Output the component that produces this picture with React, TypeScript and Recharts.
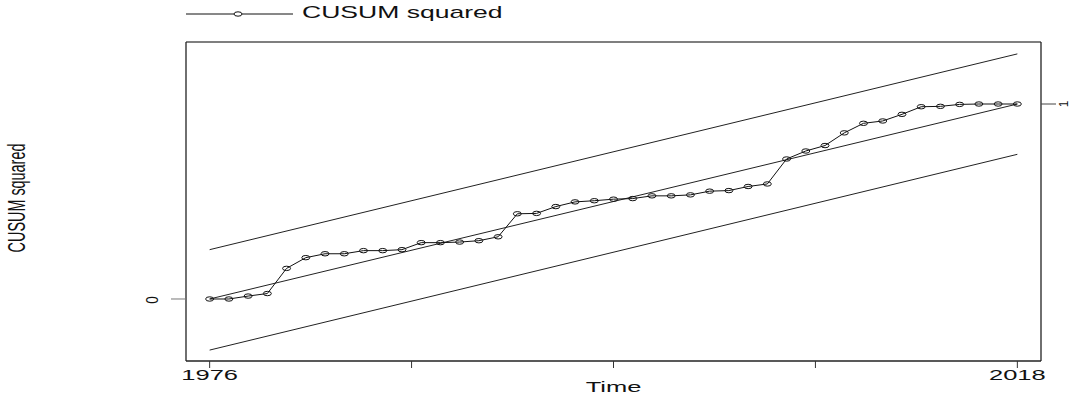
import React from 'react'
import { ComposedChart, Line, XAxis, YAxis } from 'recharts'

// years of the recursive-residual sample
const years = [
  1976, 1977, 1978, 1979, 1980, 1981, 1982, 1983, 1984, 1985, 1986,
  1987, 1988, 1989, 1990, 1991, 1992, 1993, 1994, 1995, 1996, 1997,
  1998, 1999, 2000, 2001, 2002, 2003, 2004, 2005, 2006, 2007, 2008,
  2009, 2010, 2011, 2012, 2013, 2014, 2015, 2016, 2017, 2018,
]

// CUSUM of squares
const cusumSq = [
  0, 0, 0.015, 0.028, 0.157, 0.212, 0.232, 0.232, 0.248, 0.248, 0.253,
  0.289, 0.289, 0.292, 0.299, 0.319, 0.437, 0.439, 0.474, 0.498, 0.504, 0.512,
  0.515, 0.529, 0.529, 0.534, 0.553, 0.556, 0.577, 0.59, 0.718, 0.759, 0.787,
  0.852, 0.901, 0.913, 0.947, 0.986, 0.988, 0.998, 1, 1, 1,
]

// end points of the expected line and the 5% bands
const bandYears = [1976, 2018]
const upperBand = [0.253, 1.257]
const centerLine = [0, 1]
const lowerBand = [-0.262, 0.742]

const xTicks = [1976, 1986.5, 1997, 2007.5, 2018]
const xTickLabels = ['1976', '', '', '', '2018']
const leftTicks = [0]
const rightTicks = [1]

const seriesData = years.map((year, i) => ({ year, cusum: cusumSq[i] }))
const bandData = bandYears.map((year, i) => ({
  year,
  upper: upperBand[i],
  center: centerLine[i],
  lower: lowerBand[i],
}))

const FONT = '"Liberation Sans", Arial, sans-serif'
const INK = '#111'

const BottomTick = (props: any) => {
  const { x, y, payload } = props
  const idx = xTicks.indexOf(payload.value)
  const text = idx >= 0 ? xTickLabels[idx] : ''
  if (!text) return <g />
  return (
    <g transform={`translate(${x},${y + 12})`}>
      <text transform="scale(1.7,1)" textAnchor="middle" fontSize={15} fontFamily={FONT} fill={INK}>
        {text}
      </text>
    </g>
  )
}

const LeftTick = (props: any) => {
  const { x, y, payload } = props
  return (
    <g transform={`translate(${x - 13},${y + 1})`}>
      <text transform="rotate(-90) scale(0.9,1.15)" textAnchor="middle" fontSize={15} fontFamily={FONT} fill={INK}>
        {payload.value}
      </text>
    </g>
  )
}

const RightTick = (props: any) => {
  const { x, y, payload } = props
  return (
    <g transform={`translate(${x + 12},${y})`}>
      <text transform="rotate(-90) scale(0.9,1.0)" textAnchor="middle" fontSize={13} fontFamily={FONT} fill={INK}>
        {payload.value}
      </text>
    </g>
  )
}

const Marker = (props: any) => {
  const { cx, cy, index } = props
  if (cx == null || cy == null) return <g key={index} />
  return <ellipse key={index} cx={cx} cy={cy} rx={4} ry={2.2} fill="none" stroke={INK} strokeWidth={1} />
}

const TimeLabel = (props: any) => {
  const vb = props.viewBox || {}
  const cx = vb.x + vb.width / 2
  return (
    <g transform={`translate(${cx},${vb.y + 31})`}>
      <text transform="scale(1.7,1)" textAnchor="middle" fontSize={15} fontFamily={FONT} fill={INK}>
        Time
      </text>
    </g>
  )
}

const YTitle = () => (
  <g transform="translate(25,198)">
    <text transform="rotate(-90) scale(0.9,1.55)" textAnchor="middle" fontSize={16} fontFamily={FONT} fill={INK}>
      CUSUM squared
    </text>
  </g>
)

export default function App() {
  return (
    <div style={{ position: 'absolute', left: 0, top: 0, width: 1073, height: 396, background: '#fff' }}>
      <svg width={520} height={30} style={{ position: 'absolute', left: 0, top: 0 }}>
        <line x1={186} y1={14} x2={293} y2={14} stroke={INK} strokeWidth={1} />
        <ellipse cx={238} cy={14} rx={4} ry={2.2} fill="#fff" stroke={INK} strokeWidth={1} />
        <g transform="translate(302,18)">
          <text transform="scale(1.66,1)" fontSize={16} fontFamily={FONT} fill={INK}>
            CUSUM squared
          </text>
        </g>
      </svg>
      <ComposedChart width={1073} height={396} margin={{ top: 32, right: 0, bottom: 0, left: 126 }}>
        <XAxis
          xAxisId="bottom"
          dataKey="year"
          type="number"
          domain={[1974.77, 2019.23]}
          ticks={xTicks}
          interval={0}
          height={35}
          tickSize={7}
          tickMargin={0}
          tick={BottomTick}
          axisLine={{ stroke: '#222', strokeWidth: 1.3 }}
          tickLine={{ stroke: '#333', strokeWidth: 1 }}
          allowDataOverflow
          label={<TimeLabel />}
        />
        <XAxis
          xAxisId="top"
          orientation="top"
          type="number"
          domain={[1974.77, 2019.23]}
          ticks={xTicks}
          interval={0}
          height={10}
          tickSize={7}
          tick={() => <g />}
          axisLine={{ stroke: '#555', strokeWidth: 1.3 }}
          tickLine={{ stroke: '#222', strokeWidth: 1.3 }}
          allowDataOverflow
        />
        <YAxis
          yAxisId="left"
          type="number"
          domain={[-0.318, 1.318]}
          ticks={leftTicks}
          interval={0}
          width={60}
          tickSize={15}
          tickMargin={0}
          tick={LeftTick}
          axisLine={{ stroke: '#222', strokeWidth: 1.3 }}
          tickLine={{ stroke: '#777', strokeWidth: 1 }}
          allowDataOverflow
          label={<YTitle />}
        />
        <YAxis
          yAxisId="right"
          orientation="right"
          type="number"
          domain={[-0.318, 1.318]}
          ticks={rightTicks}
          interval={0}
          width={32}
          tickSize={15}
          tickMargin={0}
          tick={RightTick}
          axisLine={{ stroke: '#222', strokeWidth: 1.3 }}
          tickLine={{ stroke: '#444', strokeWidth: 1 }}
          allowDataOverflow
        />
        <Line data={bandData} xAxisId="bottom" yAxisId="left" dataKey="upper" stroke="#222" strokeWidth={1} dot={false} isAnimationActive={false} />
        <Line data={bandData} xAxisId="bottom" yAxisId="left" dataKey="center" stroke="#222" strokeWidth={1} dot={false} isAnimationActive={false} />
        <Line data={bandData} xAxisId="bottom" yAxisId="left" dataKey="lower" stroke="#222" strokeWidth={1} dot={false} isAnimationActive={false} />
        <Line
          data={seriesData}
          xAxisId="bottom"
          yAxisId="left"
          dataKey="cusum"
          stroke={INK}
          strokeWidth={1}
          dot={Marker}
          activeDot={false}
          isAnimationActive={false}
        />
      </ComposedChart>
    </div>
  )
}
